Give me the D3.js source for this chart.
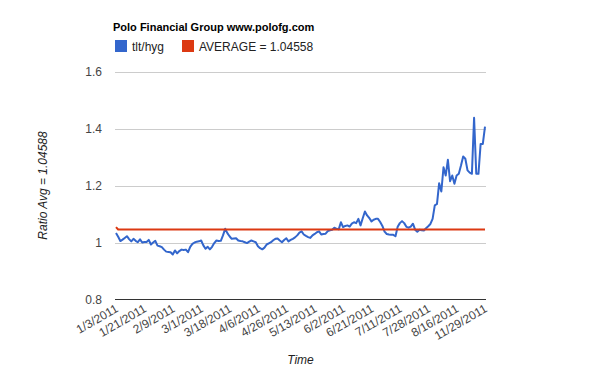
<!DOCTYPE html>
<html>
<head>
<meta charset="utf-8">
<script src="https://cdn.jsdelivr.net/npm/d3@7"></script>
<style>
  body { margin: 0; background: #fff; }
  svg { display: block; font-family: Arial, "Liberation Sans", sans-serif; }
  .grid line { stroke: #ccc; shape-rendering: crispEdges; }
  .ylab text, .xlab text { fill: #444; font-size: 12px; }
</style>
</head>
<body>
<svg id="chart" width="600" height="371"></svg>
<script>
// tlt/hyg ratio, one value per trading day
var ratio = [
  1.033, 1.020, 1.005, 1.010, 1.016, 1.022, 1.012, 1.004, 1.013, 1.006,
  1.001, 1.011, 1.000, 1.002, 1.002, 1.009, 0.993, 1.000, 1.006, 0.989,
  0.987, 0.984, 0.975, 0.968, 0.967, 0.966, 0.958, 0.972, 0.962, 0.970,
  0.975, 0.974, 0.975, 0.966, 0.985, 0.995, 1.000, 1.003, 1.004, 1.007,
  0.990, 0.978, 0.985, 0.976, 0.985, 0.998, 1.007, 1.005, 1.006, 1.025,
  1.048, 1.033, 1.022, 1.013, 1.014, 1.015, 1.007, 1.005, 1.004, 1.001,
  0.998, 1.003, 1.007, 1.004, 1.001, 0.987, 0.980, 0.976, 0.982, 0.993,
  0.997, 1.001, 1.008, 1.013, 1.014, 1.007, 1.001, 1.009, 1.015, 1.004,
  1.009, 1.013, 1.018, 1.025, 1.035, 1.039, 1.028, 1.023, 1.019, 1.016,
  1.025, 1.030, 1.036, 1.039, 1.028, 1.030, 1.031, 1.040, 1.043, 1.045,
  1.052, 1.048, 1.046, 1.071, 1.054, 1.058, 1.060, 1.056, 1.066, 1.071,
  1.068, 1.083, 1.060, 1.085, 1.109, 1.095, 1.086, 1.074, 1.080, 1.083,
  1.083, 1.072, 1.058, 1.038, 1.030, 1.028, 1.027, 1.027, 1.022, 1.055,
  1.068, 1.075, 1.068, 1.055, 1.052, 1.056, 1.066, 1.045, 1.038, 1.045,
  1.043, 1.042, 1.050, 1.057, 1.065, 1.083, 1.130, 1.135, 1.208, 1.179,
  1.264, 1.235, 1.290, 1.215, 1.235, 1.206, 1.235, 1.241, 1.270, 1.302,
  1.294, 1.253, 1.245, 1.241, 1.438, 1.241, 1.241, 1.346, 1.346, 1.407
];

// average series: first point slightly higher, then flat
var avgFirst = 1.054;
var avgValue = 1.04558;

var tickLabels = ['1/3/2011', '1/21/2011', '2/9/2011', '3/1/2011', '3/18/2011',
  '4/6/2011', '4/26/2011', '5/13/2011', '6/2/2011', '6/21/2011', '7/11/2011',
  '7/28/2011', '8/16/2011', '11/29/2011'];
var tickStep = 13; // one label every 13 points

var yTicks = [0.8, 1, 1.2, 1.4, 1.6];

var seriesNames = ['tlt/hyg', 'AVERAGE = 1.04558'];
var colors = ['#3366cc', '#dc3912'];

(function() {
  var svg = d3.select('#chart');
  var left = 116, right = 485; // px, first and last point
  var plotTop = 71.5, plotBottom = 299.5;

  var x = d3.scaleLinear().domain([0, ratio.length - 1]).range([left, right]);
  var y = d3.scaleLinear().domain([0.8, 1.6]).range([plotBottom, plotTop]);

  // title + legend
  svg.append('text')
    .attr('x', 113).attr('y', 31)
    .attr('font-size', '11px').attr('font-weight', 'bold').attr('fill', '#000')
    .text('Polo Financial Group www.polofg.com');

  var legX = [115, 182];
  seriesNames.forEach(function(name, i) {
    svg.append('rect')
      .attr('x', legX[i]).attr('y', 40).attr('width', 12).attr('height', 12)
      .attr('fill', colors[i]);
    svg.append('text')
      .attr('x', legX[i] + 17).attr('y', 50.5)
      .attr('font-size', '12px').attr('fill', '#222')
      .text(name);
  });

  // gridlines
  var grid = svg.append('g').attr('class', 'grid');
  grid.selectAll('line')
    .data(yTicks.slice(1))
    .enter().append('line')
    .attr('x1', left - 1).attr('x2', right + 1)
    .attr('y1', function(d) { return Math.round(y(d)) + 0.5; })
    .attr('y2', function(d) { return Math.round(y(d)) + 0.5; });

  // baseline
  svg.append('line')
    .attr('x1', left - 1).attr('x2', right + 1)
    .attr('y1', Math.round(y(0.8)) - 0.5).attr('y2', Math.round(y(0.8)) - 0.5)
    .attr('stroke', '#333').attr('shape-rendering', 'crispEdges');

  // y labels
  var ylab = svg.append('g').attr('class', 'ylab');
  ylab.selectAll('text')
    .data(yTicks)
    .enter().append('text')
    .attr('x', 102)
    .attr('y', function(d) { return y(d) + 4.5; })
    .attr('text-anchor', 'end')
    .text(function(d) { return d3.format('')(d); });

  svg.append('text')
    .attr('transform', 'translate(47,' + ((plotTop + plotBottom) / 2) + ') rotate(-90)')
    .attr('text-anchor', 'middle')
    .attr('font-size', '12px').attr('font-style', 'italic').attr('fill', '#222')
    .text('Ratio Avg = 1.04588');

  // x labels
  var xlab = svg.append('g').attr('class', 'xlab');
  xlab.selectAll('text')
    .data(tickLabels)
    .enter().append('text')
    .attr('text-anchor', 'end')
    .attr('transform', function(d, i) {
      return 'translate(' + (x(i * tickStep) + 3) + ',311) rotate(-30)';
    })
    .text(function(d) { return d; });

  svg.append('text')
    .attr('x', (left + right) / 2).attr('y', 364)
    .attr('text-anchor', 'middle')
    .attr('font-size', '12px').attr('font-style', 'italic').attr('fill', '#222')
    .text('Time');

  // lines
  var line = d3.line()
    .x(function(d, i) { return x(i); })
    .y(function(d) { return y(d); });

  var avgSeries = ratio.map(function(d, i) { return i === 0 ? avgFirst : avgValue; });

  [ratio, avgSeries].forEach(function(s, k) {
    svg.append('path')
      .datum(s)
      .attr('d', line)
      .attr('fill', 'none')
      .attr('stroke', colors[k])
      .attr('stroke-width', 2)
      .attr('stroke-linejoin', 'round');
  });
})();
</script>
</body>
</html>
